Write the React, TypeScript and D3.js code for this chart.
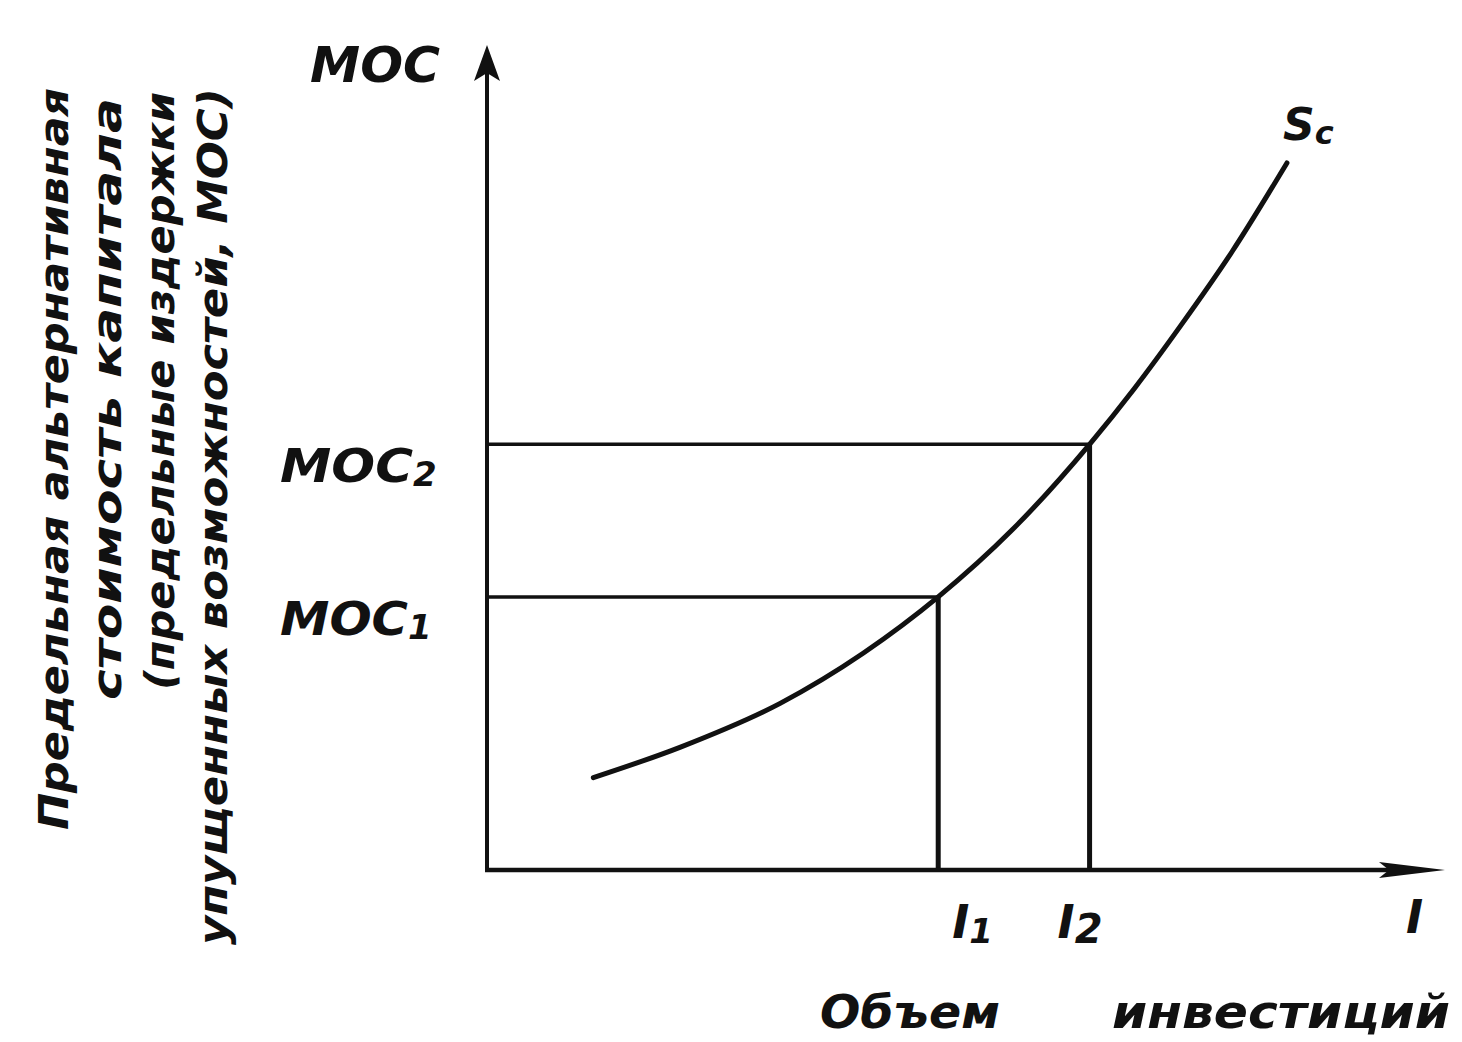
import React from 'react';
import * as d3 from 'd3';

// investment volume (x) and marginal opportunity cost (y), in abstract units 0..100
const curveI = [11.1, 20.2, 30.6, 39.3, 47.1, 54.8, 62.9, 67.6, 72.3, 77.8, 83.5];
const curveMOC = [11.2, 14.9, 20.2, 26.3, 33.1, 41.2, 51.6, 58.4, 65.8, 75.0, 85.7];

const levelNames = ['1', '2'];
const levelI = [47.1, 62.9];
const levelMOC = [33.1, 51.6];

const yTitleLines = [
  'Предельная альтернативная',
  'стоимость капитала',
  '(предельные издержки',
  'упущенных возможностей, МОС)',
];

const W = 1462;
const H = 1042;
const font = '"DejaVu Sans", sans-serif';
const ink = '#111';

export default function App() {
  const x = d3.scaleLinear().domain([0, 100]).range([487, 1445]);
  const y = d3.scaleLinear().domain([0, 100]).range([870, 45]);

  const pts: [number, number][] = curveI.map((v, i) => [v, curveMOC[i]]);
  const line = d3
    .line<[number, number]>()
    .x(d => x(d[0]))
    .y(d => y(d[1]))
    .curve(d3.curveMonotoneX);

  const x0 = x(0);
  const y0 = y(0);

  // rotated y title: baseline x, start (bottom) y, end (top) y
  const titlePos = [
    { bx: 68, y1: 830, y2: 88 },
    { bx: 121, y1: 700, y2: 98 },
    { bx: 174, y1: 690, y2: 92 },
    { bx: 227, y1: 945, y2: 88 },
  ];

  const yArrow = `M${x0},${y(100)} L${x0 - 13},${y(100) + 36} L${x0},${y(100) + 28} L${x0 + 13},${y(100) + 36} Z`;
  const xArrow = `M${x(100)},${y0} L${x(100) - 66},${y0 - 8} L${x(100) - 56},${y0} L${x(100) - 66},${y0 + 8} Z`;

  const textBase = {
    fontFamily: font,
    fontStyle: 'italic' as const,
    fontWeight: 700,
    fill: ink,
  };

  return (
    <div style={{ position: 'absolute', left: 0, top: 0 }}>
      <svg width={W} height={H} style={{ display: 'block', background: '#fff' }}>
        {/* guide lines */}
        {levelI.map((v, i) => (
          <g key={'g' + i} stroke={ink} fill="none">
            <line x1={x0} x2={x(v)} y1={y(levelMOC[i])} y2={y(levelMOC[i])} strokeWidth={3.5} />
            <line x1={x(v)} x2={x(v)} y1={y(levelMOC[i])} y2={y0} strokeWidth={5} />
          </g>
        ))}

        {/* axes */}
        <line x1={x0} x2={x0} y1={y(100) + 20} y2={y0 + 2} stroke={ink} strokeWidth={4} />
        <line x1={x0 - 2} x2={x(100) - 30} y1={y0} y2={y0} stroke={ink} strokeWidth={4.5} />
        <path d={yArrow} fill={ink} />
        <path d={xArrow} fill={ink} />

        {/* supply curve of capital */}
        <path d={line(pts) || ''} fill="none" stroke={ink} strokeWidth={5} strokeLinecap="round" />

        {/* axis labels */}
        <text x={310} y={82} fontSize={50} textLength={130} lengthAdjust="spacingAndGlyphs" {...textBase}>
          МОС
        </text>
        {levelMOC.map((v, i) => (
          <text key={'m' + i} x={280} y={y(v) + 38} fontSize={46} {...textBase}>
            <tspan textLength={i === 0 ? 128 : 133} lengthAdjust="spacingAndGlyphs">МОС</tspan>
            <tspan fontSize={34} dy={4}>{levelNames[i]}</tspan>
          </text>
        ))}
        {levelI.map((v, i) => (
          <text key={'i' + i} x={x(v) + (i === 0 ? 14 : -32)} y={938} fontSize={46} {...textBase}>
            I<tspan fontSize={i === 0 ? 34 : 40} dy={5}>{levelNames[i]}</tspan>
          </text>
        ))}
        <text x={1406} y={933} fontSize={46} {...textBase}>I</text>
        <text x={1283} y={140} fontSize={44} {...textBase}>
          S<tspan fontSize={32} dy={4}>c</tspan>
        </text>

        <text x={820} y={1028} fontSize={46} textLength={180} lengthAdjust="spacingAndGlyphs" {...textBase}>
          Объем
        </text>
        <text x={1112} y={1028} fontSize={46} textLength={338} lengthAdjust="spacingAndGlyphs" {...textBase}>
          инвестиций
        </text>

        {yTitleLines.map((s, i) => (
          <text
            key={'t' + i}
            transform={`translate(${titlePos[i].bx},${titlePos[i].y2}) rotate(-90)`}
            textAnchor="end"
            fontSize={40}
            textLength={titlePos[i].y1 - titlePos[i].y2}
            lengthAdjust="spacingAndGlyphs"
            {...textBase}
          >
            {s}
          </text>
        ))}
      </svg>
    </div>
  );
}
